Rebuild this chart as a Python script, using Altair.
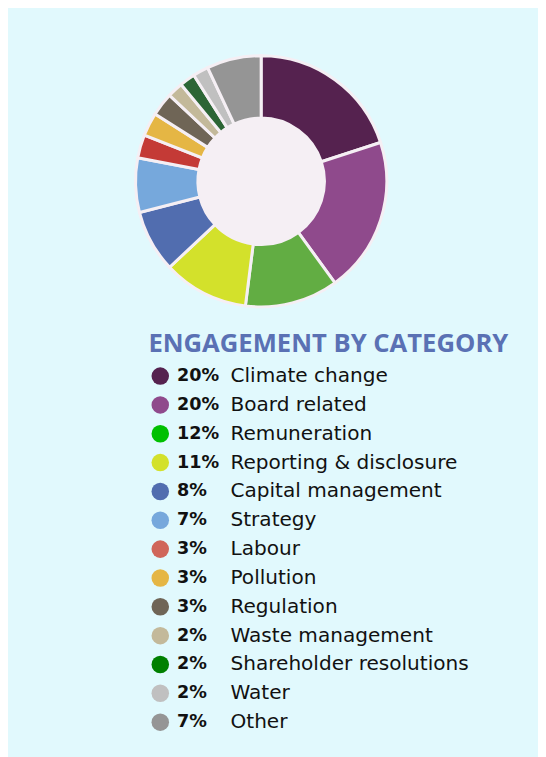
import altair as alt
import pandas as pd

categories = ["Climate change", "Board related", "Remuneration", "Reporting & disclosure",
              "Capital management", "Strategy", "Labour", "Pollution", "Regulation",
              "Waste management", "Shareholder resolutions", "Water", "Other"]
shares = [20, 20, 12, 11, 8, 7, 3, 3, 3, 2, 2, 2, 7]
pie_colors = ["#55224f", "#8f4a8c", "#62ad43", "#d3e12b", "#516daf", "#76a8dc", "#c43a36",
              "#e5b644", "#6f6556", "#c3b99a", "#2c6535", "#c0c0c0", "#959595"]
legend_colors = ["#55224f", "#8f4a8c", "#00c000", "#d3e12b", "#516daf", "#76a8dc", "#d0665a",
                 "#e5b644", "#6f6556", "#c3b99a", "#008000", "#c0c0c0", "#959595"]
title_text = "ENGAGEMENT BY CATEGORY"

df = pd.DataFrame({
    "category": categories,
    "share": shares,
    "pie_color": pie_colors,
    "legend_color": legend_colors,
    "order": list(range(len(categories))),
})
df["pct"] = df["share"].astype(str) + "%"

W, H = 536, 750
CX, CY = 256, 171
R_OUT, R_IN = 127, 64
FILL = "#f5eff4"

base = alt.Chart(df)

disc = alt.Chart(pd.DataFrame({"k": [0]})).mark_circle(
    size=3.14159 * (R_OUT + 2) ** 2, color=FILL, opacity=1
).encode(x=alt.value(CX), y=alt.value(CY))

pie = base.mark_arc(outerRadius=R_OUT, innerRadius=R_IN, stroke=FILL, strokeWidth=3).encode(
    theta=alt.Theta("share:Q", stack=True),
    order=alt.Order("order:Q"),
    color=alt.Color("pie_color:N", scale=None),
    x=alt.value(CX), y=alt.value(CY),
)

yenc = alt.Y("category:N", sort=categories, axis=None,
             scale=alt.Scale(type="point", range=[368, 718], padding=0))

dots = base.mark_circle(size=3.14159 * 10 ** 2, opacity=1).encode(
    x=alt.value(154), y=yenc, color=alt.Color("legend_color:N", scale=None))

pct = base.mark_text(align="left", baseline="middle", font="DejaVu Sans", fontSize=17.8,
                     fontWeight="bold", color="#111111").encode(
    x=alt.value(171), y=yenc, text="pct:N")

lab = base.mark_text(align="left", baseline="middle", font="DejaVu Sans", fontSize=20.3,
                     color="#111111").encode(
    x=alt.value(225), y=yenc, text="category:N")

title = alt.Chart(pd.DataFrame({"t": [title_text]})).mark_text(
    align="left", baseline="middle", font="Open Sans", fontSize=25.9, fontWeight="bold",
    color="#5a71b4").encode(x=alt.value(142), y=alt.value(336), text="t:N")

chart = alt.layer(disc, pie, dots, pct, lab, title).properties(
    width=W, height=H, padding=0, background="#e1f9fd",
    autosize=alt.AutoSizeParams(type="none"),
).configure_view(stroke=None)

chart.save("out.html", embed_options={"renderer": "svg", "actions": False})
